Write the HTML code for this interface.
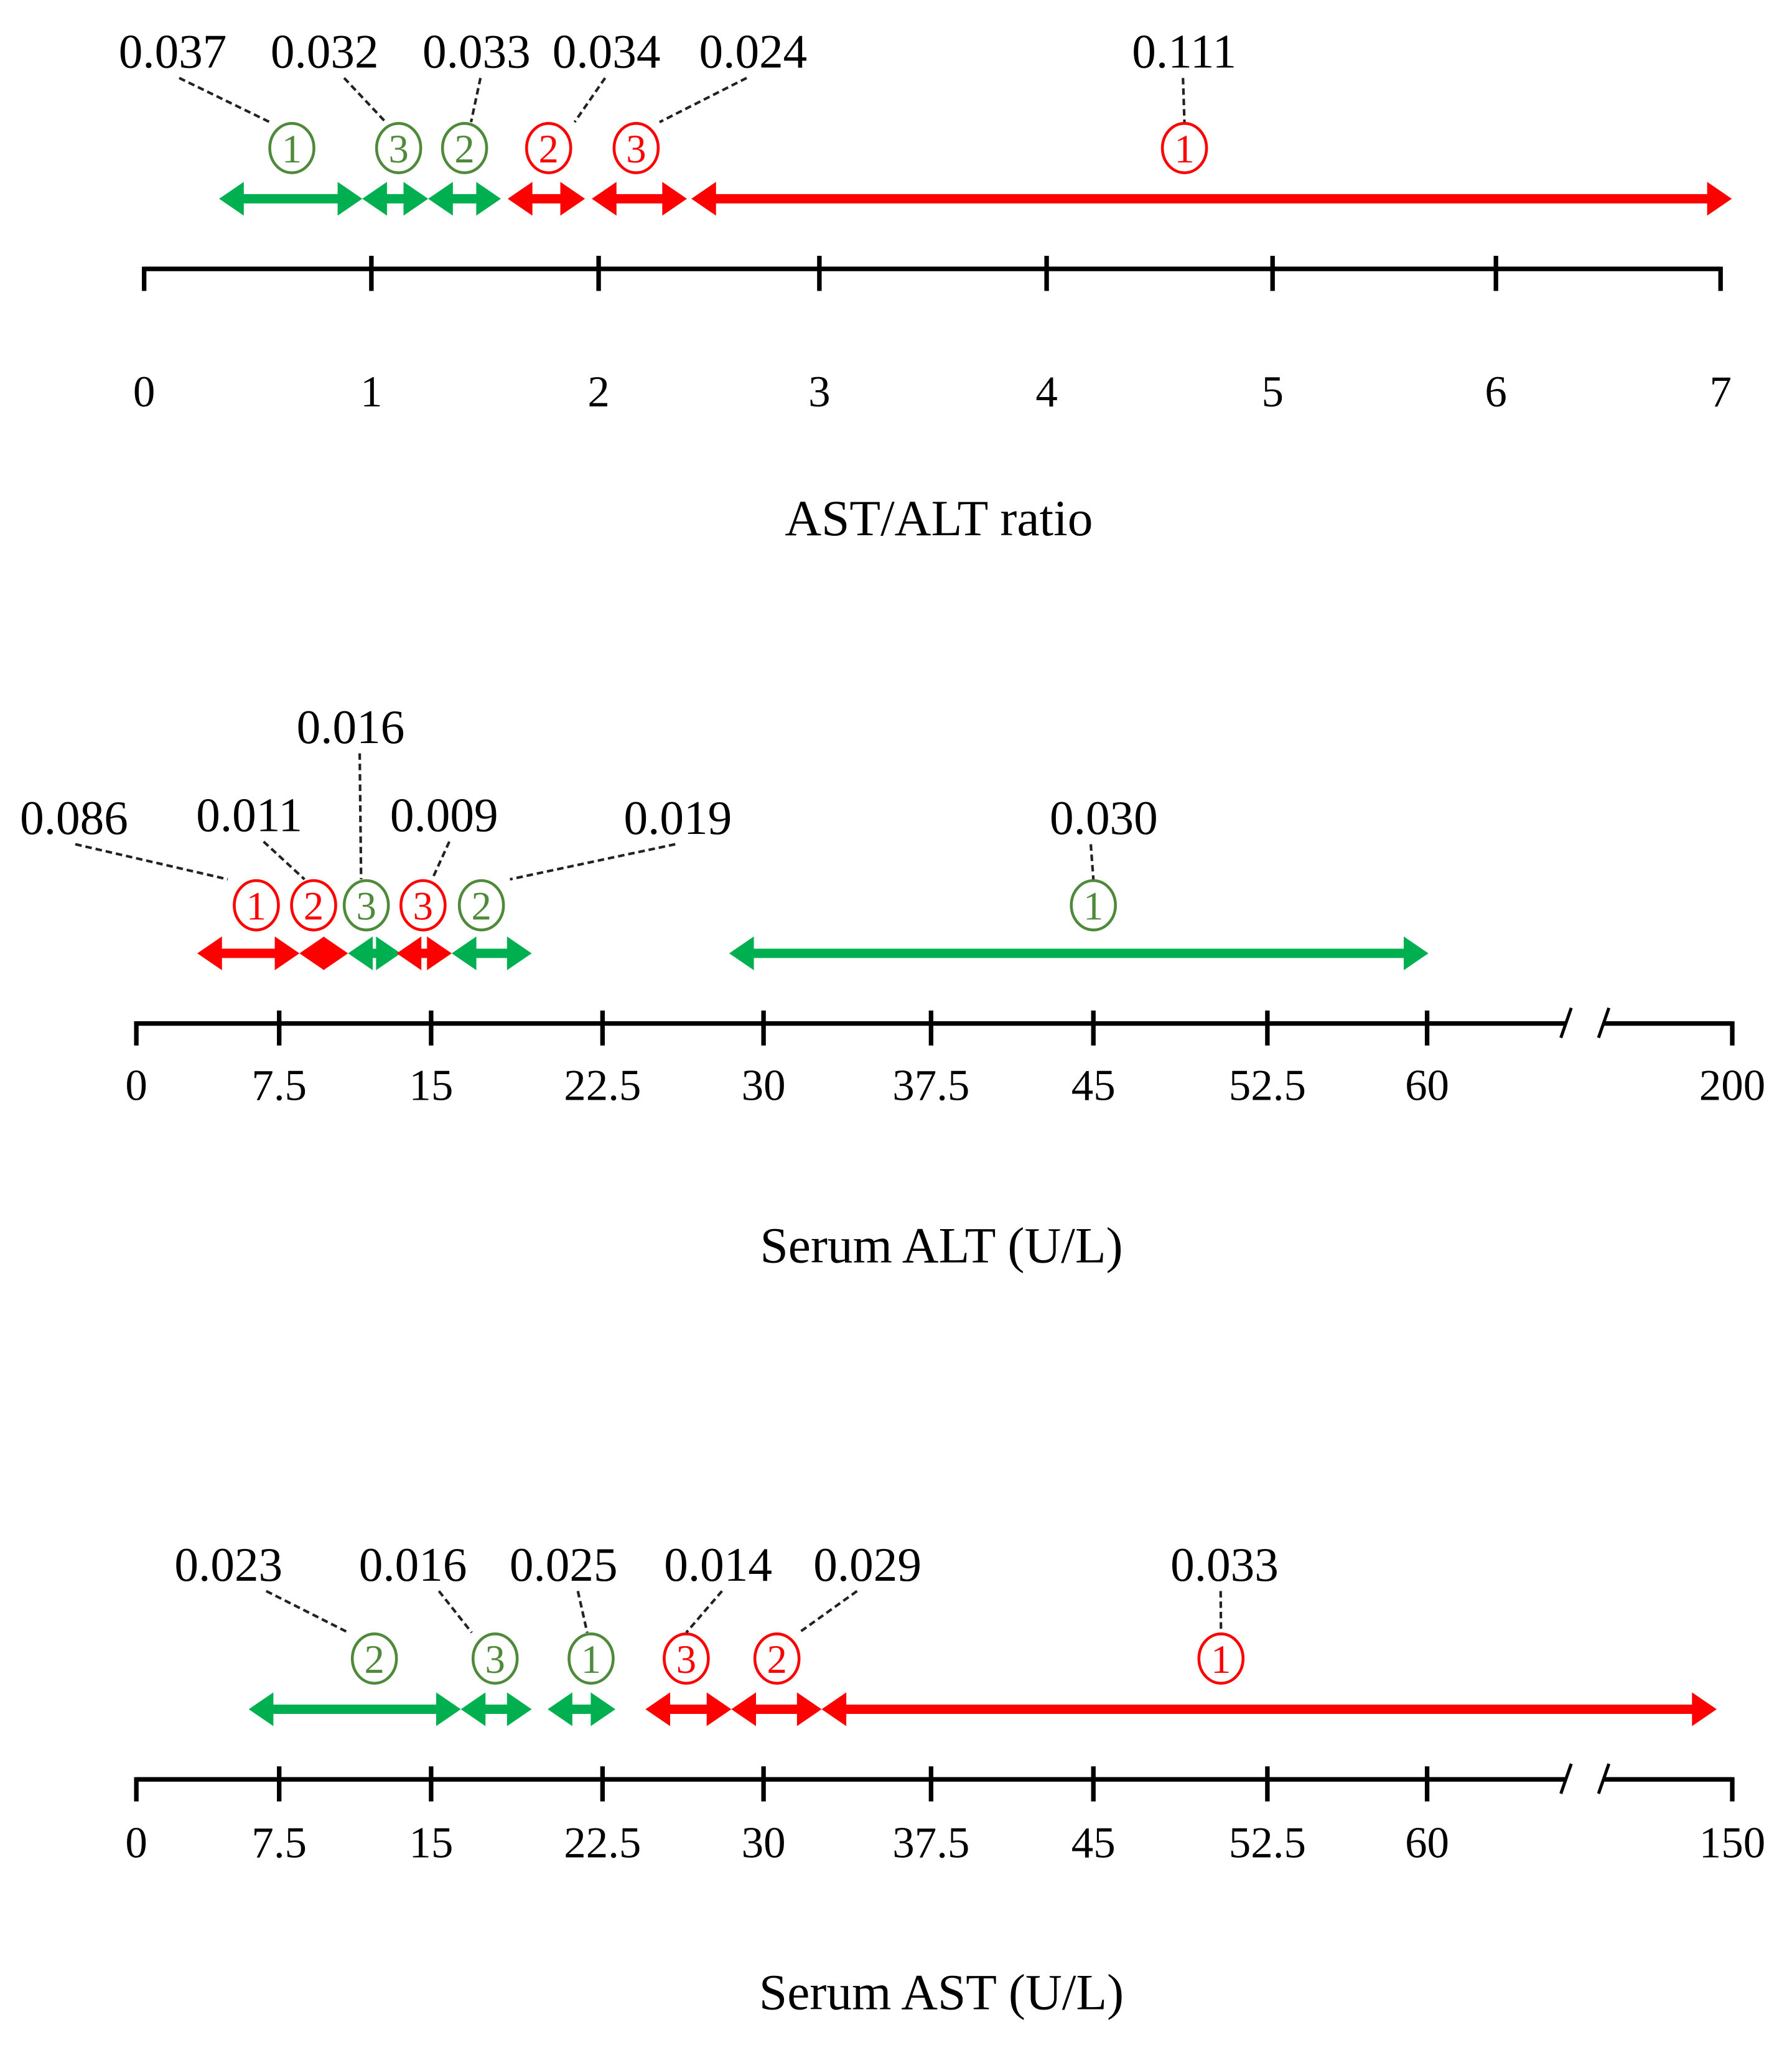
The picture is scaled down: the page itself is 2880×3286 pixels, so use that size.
<!DOCTYPE html>
<html><head><meta charset="utf-8">
<style>
html,body{margin:0;padding:0;background:#fff;}
svg{display:block;}
text{font-family:"Liberation Serif","DejaVu Serif",serif;}
</style></head>
<body>
<svg id="fig" xmlns="http://www.w3.org/2000/svg" width="2880" height="3286" viewBox="0 0 1380 1574.5"></svg>
<script>
// ---------- Panel 1: AST/ALT ratio ----------
const p1Ticks = [0,1,2,3,4,5,6,7];
const p1TickLabels = ["0","1","2","3","4","5","6","7"];
const p1Starts = [0.33,0.96,1.25,1.60,1.97,2.42];
const p1Ends   = [0.96,1.25,1.57,1.94,2.40,7.05];
const p1Groups = ["green","green","green","red","red","red"];
const p1Marks  = ["①","③","②","②","③","①"];
const p1MarkAt = [0.65,1.12,1.41,1.78,2.17,4.61];
const p1PValues = ["0.037","0.032","0.033","0.034","0.024","0.111"];

// ---------- Panel 2: Serum ALT ----------
const p2Ticks = [0,7.5,15,22.5,30,37.5,45,52.5,60,200];
const p2TickLabels = ["0","7.5","15","22.5","30","37.5","45","52.5","60","200"];
const p2Starts = [3.2,8.5,10.9,13.3,15.9,28.4];
const p2Ends   = [8.5,10.9,13.5,15.9,19.4,60.6];
const p2Groups = ["red","red","green","red","green","green"];
const p2Marks  = ["①","②","③","③","②","①"];
const p2MarkAt = [6.3,9.2,11.8,14.6,17.2,45];
const p2PValues = ["0.086","0.011","0.016","0.009","0.019","0.030"];

// ---------- Panel 3: Serum AST ----------
const p3Ticks = [0,7.5,15,22.5,30,37.5,45,52.5,60,150];
const p3TickLabels = ["0","7.5","15","22.5","30","37.5","45","52.5","60","150"];
const p3Starts = [5.9,16.3,20.1,24.5,28.5,32.6];
const p3Ends   = [16.3,19.4,23.1,28.5,32.6,145.4];
const p3Groups = ["green","green","green","red","red","red"];
const p3Marks  = ["②","③","①","③","②","①"];
const p3MarkAt = [12.2,17.8,22.0,26.4,30.6,50.5];
const p3PValues = ["0.023","0.016","0.025","0.014","0.029","0.033"];

const NS="http://www.w3.org/2000/svg";
const svg=document.getElementById('fig');
function mk(tag,attrs,parent){const e=document.createElementNS(NS,tag);for(const k in attrs)e.setAttribute(k,attrs[k]);(parent||svg).appendChild(e);return e;}
const COL={red:"#ff0000",green:"#00b050"};
const CIRC={red:"#ff0000",green:"#4e8a3a"};

function makeScale(vals,px){
  return function(v){
    let i=0;
    while(i<vals.length-2 && v>vals[i+1]) i++;
    const t=(v-vals[i])/(vals[i+1]-vals[i]);
    return px[i]+t*(px[i+1]-px[i]);
  };
}

function panel(cfg){
  const g=mk('g',{});
  
  
  const x=makeScale(cfg.ticks,cfg.tickPx);
  const ay=cfg.axisY;
  const axis=mk('g',{},g);
  
  
  const x0=x(cfg.ticks[0]), xN=x(cfg.ticks[cfg.ticks.length-1]);
  const sw=3.5;
  if(cfg.brk){
    const l1=mk('line',{x1:x0,y1:ay,x2:cfg.brk[0],y2:ay,stroke:'#000','stroke-width':sw},axis);
    
    
    const l2=mk('line',{x1:cfg.brk[1],y1:ay,x2:xN,y2:ay,stroke:'#000','stroke-width':sw},axis);
    
    
    cfg.brk.forEach(b=>{
      const s=mk('line',{x1:b-4,y1:ay+11,x2:b+4,y2:ay-12,stroke:'#000','stroke-width':2.4},axis);
      
      
    });
  } else {
    const l=mk('line',{x1:x0,y1:ay,x2:xN,y2:ay,stroke:'#000','stroke-width':sw},axis);
    
    
  }
  cfg.ticks.forEach((v,i)=>{
    const tx=x(v);
    const end=(i===0||i===cfg.ticks.length-1);
    const t=mk('line',{x1:tx,y1:end?ay-1.7:ay-10,x2:tx,y2:ay+17,stroke:'#000','stroke-width':3.5},axis);
    
    
    const lb=mk('text',{x:tx,y:cfg.labelY,'text-anchor':'middle','font-size':34},axis);
    lb.textContent=cfg.tickLabels[i];
    
    
  });
  const title=mk('text',{x:cfg.titleX,y:cfg.titleY,'text-anchor':'middle','font-size':39},g);
  title.textContent=cfg.title;
  
  

  const hy=13, hl=19, sh=3.6;
  cfg.starts.forEach((s,i)=>{
    const xa=x(s), xb=x(cfg.ends[i]), y=cfg.arrowY, c=COL[cfg.groups[i]];
    const d=`M${xa},${y} L${xa+hl},${y-hy} L${xa+hl},${y-sh} L${xb-hl},${y-sh} L${xb-hl},${y-hy} L${xb},${y} L${xb-hl},${y+hy} L${xb-hl},${y+sh} L${xa+hl},${y+sh} L${xa+hl},${y+hy} Z`;
    const p=mk('path',{d:d,fill:c},g);
    
    
  });
  cfg.markAt.forEach((v,i)=>{
    const cx=x(v), cy=cfg.circleY, c=CIRC[cfg.groups[i]];
    const mg=mk('g',{},g);
    
    
    mk('ellipse',{cx:cx,cy:cy,rx:17,ry:19,fill:'none',stroke:c,'stroke-width':2.2},mg);
    const tt=mk('text',{x:cx,y:cy+11,'text-anchor':'middle','font-size':31,fill:c},mg);
    tt.textContent=({"①":"1","②":"2","③":"3"})[cfg.marks[i]];
    const lx=cfg.labelPx[i], ly=cfg.pY[i];
    const pv=mk('text',{x:lx,y:ly,'text-anchor':'middle','font-size':37},g);
    pv.textContent=cfg.pvals[i];
    
    
    const ln=mk('line',{x1:cfg.lineTop[i],y1:ly+8,x2:cx+cfg.lineBotOff[i],y2:cy-20,stroke:'#222','stroke-width':2,'stroke-dasharray':'5 3'},g);
    
    
  });
}

panel({name:'ast-alt-ratio-panel',ticks:p1Ticks,tickLabels:p1TickLabels,
  tickPx:[111,286,461,631,806,980,1152,1325],axisY:207,labelY:313,
  title:'AST/ALT ratio',titleX:723,titleY:412,
  starts:p1Starts,ends:p1Ends,groups:p1Groups,marks:p1Marks,markAt:p1MarkAt,pvals:p1PValues,
  arrowY:153,circleY:114,labelPx:[133,250,367,467,580,912],pY:[52,52,52,52,52,52],
  lineTop:[138,265,370,466,575,911],lineBotOff:[-17,-10,5,20,18,0]});

panel({name:'serum-alt-panel',ticks:p2Ticks,tickLabels:p2TickLabels,
  tickPx:[105,215,332,464,588,717,842,976,1099,1334],axisY:788,labelY:847,brk:[1206,1235],
  title:'Serum ALT (U/L)',titleX:725,titleY:972,
  starts:p2Starts,ends:p2Ends,groups:p2Groups,marks:p2Marks,markAt:p2MarkAt,pvals:p2PValues,
  arrowY:734,circleY:697,labelPx:[57,192,270,342,522,850],pY:[642,640,572,640,642,642],
  lineTop:[58,203,277,346,520,840],lineBotOff:[-22,-7,-4,7,22,0]});

panel({name:'serum-ast-panel',ticks:p3Ticks,tickLabels:p3TickLabels,
  tickPx:[105,215,332,464,588,717,842,976,1099,1334],axisY:1370,labelY:1430,brk:[1206,1235],
  title:'Serum AST (U/L)',titleX:725,titleY:1547,
  starts:p3Starts,ends:p3Ends,groups:p3Groups,marks:p3Marks,markAt:p3MarkAt,pvals:p3PValues,
  arrowY:1316,circleY:1277,labelPx:[176,318,434,553,668,943],pY:[1217,1217,1217,1217,1217,1217],
  lineTop:[205,338,445,556,660,940],lineBotOff:[-20,-18,-3,0,17,0]});
</script>
</body></html>
